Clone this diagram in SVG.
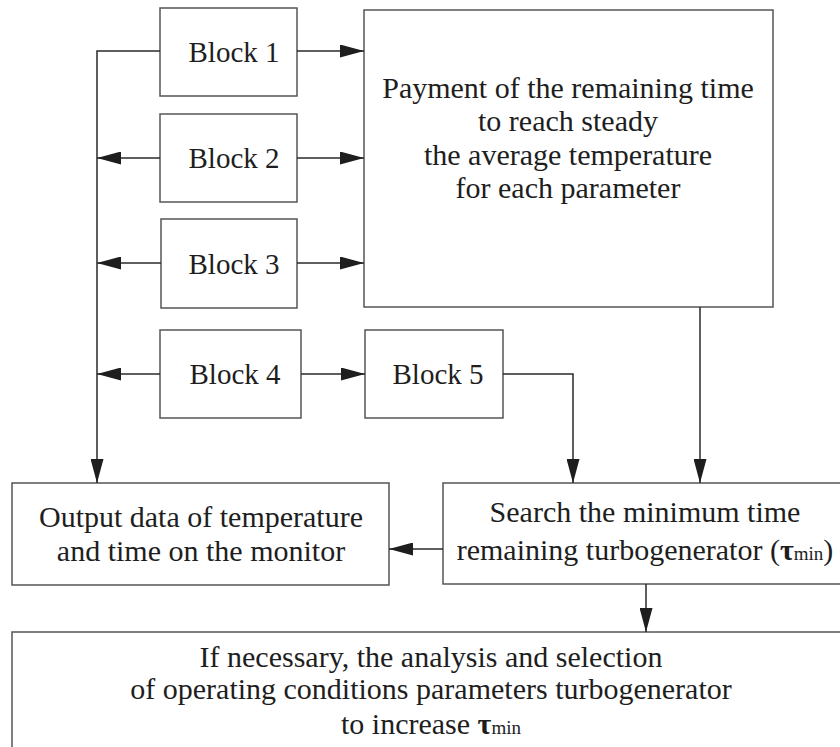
<svg xmlns="http://www.w3.org/2000/svg" width="840" height="747" viewBox="0 0 840 747">
<style>
  .box { fill: #ffffff; stroke: #555555; stroke-width: 1.5; }
  .ln { fill: none; stroke: #2a2a2a; stroke-width: 1.5; }
  .t { font-family: "Liberation Serif", "Times New Roman", serif; font-size: 30px; fill: #1e1e1e; text-anchor: middle; }
  .tb { font-family: "Liberation Serif", "Times New Roman", serif; font-size: 29px; fill: #1e1e1e; text-anchor: middle; }
  .tau { font-weight: bold; }
  .sub { font-size: 19px; }
</style>
<defs>
  <marker id="arr" markerUnits="userSpaceOnUse" markerWidth="24" markerHeight="13" refX="24" refY="6.5" orient="auto">
    <path d="M0,0 L24,6.5 L0,13 z" fill="#1e1e1e"/>
  </marker>
</defs>
<rect x="0" y="0" width="840" height="747" fill="#ffffff"/>

<g id="block1">
  <rect class="box" x="160" y="8" width="137" height="88"/>
  <text class="tb" x="234" y="62">Block 1</text>
</g>
<g id="block2">
  <rect class="box" x="160" y="114" width="137" height="88"/>
  <text class="tb" x="234" y="168">Block 2</text>
</g>
<g id="block3">
  <rect class="box" x="161" y="219" width="136" height="89"/>
  <text class="tb" x="234" y="274">Block 3</text>
</g>
<g id="block4">
  <rect class="box" x="160" y="330" width="141" height="88"/>
  <text class="tb" x="235" y="384">Block 4</text>
</g>
<g id="block5">
  <rect class="box" x="365" y="330" width="138" height="88"/>
  <text class="tb" x="438" y="384">Block 5</text>
</g>
<g id="payment">
  <rect class="box" x="364" y="10" width="409" height="297"/>
  <text class="t" x="568" y="98">Payment of the remaining time</text>
  <text class="t" x="568" y="131">to reach steady</text>
  <text class="t" x="568" y="165">the average temperature</text>
  <text class="t" x="568" y="198">for each parameter</text>
</g>
<g id="search">
  <rect class="box" x="443" y="483" width="410" height="101"/>
  <text class="t" x="645" y="522">Search the minimum time</text>
  <text class="t" x="645" y="560">remaining turbogenerator (<tspan class="tau">τ</tspan><tspan class="sub">min</tspan>)</text>
</g>
<g id="output">
  <rect class="box" x="12" y="483" width="377" height="102"/>
  <text class="t" x="201" y="527">Output data of temperature</text>
  <text class="t" x="201" y="561">and time on the monitor</text>
</g>
<g id="analysis">
  <rect class="box" x="12" y="632" width="850" height="130"/>
  <text class="t" x="431" y="667">If necessary, the analysis and selection</text>
  <text class="t" x="431" y="699">of operating conditions parameters turbogenerator</text>
  <text class="t" x="431" y="734">to increase <tspan class="tau">τ</tspan><tspan class="sub">min</tspan></text>
</g>

<g id="connectors">
  <path class="ln" d="M160,51 H97 V483" marker-end="url(#arr)"/>
  <path class="ln" d="M160,158 H97" marker-end="url(#arr)"/>
  <path class="ln" d="M161,263 H97" marker-end="url(#arr)"/>
  <path class="ln" d="M160,374 H97" marker-end="url(#arr)"/>
  <path class="ln" d="M297,51 H364" marker-end="url(#arr)"/>
  <path class="ln" d="M297,158 H364" marker-end="url(#arr)"/>
  <path class="ln" d="M297,263 H364" marker-end="url(#arr)"/>
  <path class="ln" d="M301,374 H365" marker-end="url(#arr)"/>
  <path class="ln" d="M503,374 H573 V483" marker-end="url(#arr)"/>
  <path class="ln" d="M700,307 V483" marker-end="url(#arr)"/>
  <path class="ln" d="M443,549 H389" marker-end="url(#arr)"/>
  <path class="ln" d="M646,584 V632" marker-end="url(#arr)"/>
</g>
</svg>
